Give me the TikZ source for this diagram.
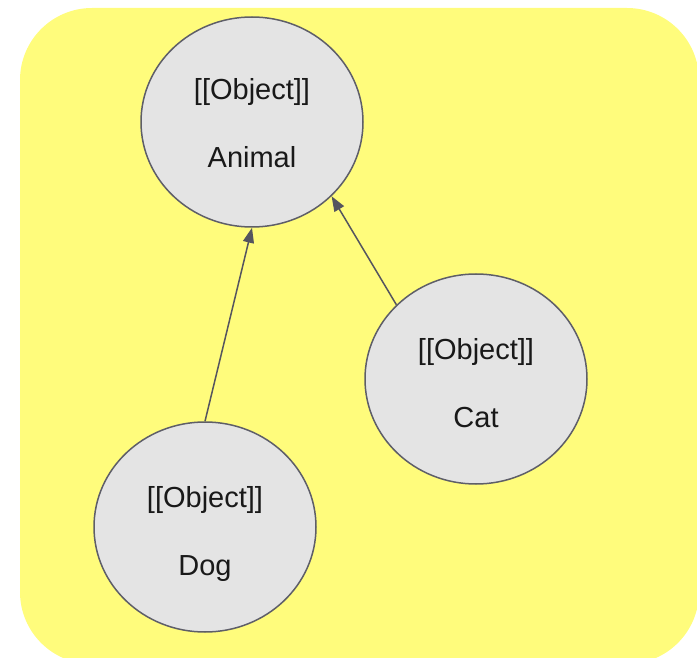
\documentclass[tikz,border=0pt]{standalone}
\usepackage{fontspec}
\setmainfont{Liberation Sans}
\usetikzlibrary{shapes.geometric,arrows.meta}

\definecolor{panelyellow}{HTML}{FFFC7C}
\definecolor{objfill}{HTML}{E4E4E4}
\definecolor{objline}{HTML}{5E5E68}
\definecolor{linkline}{HTML}{55555F}

\tikzset{
  objnode/.style={ellipse, draw=objline, line width=1.5pt, fill=objfill,
    minimum width=222pt, minimum height=210pt, inner sep=0pt},
  objtext/.style={anchor=base, inner sep=0pt, text=black!90,
    font=\fontsize{29}{34}\selectfont},
  inherits/.style={draw=linkline, line width=1.5pt,
    -{Triangle[length=15pt,width=11pt]}}
}

\begin{document}
\begin{tikzpicture}[x=1pt,y=-1pt]
  \useasboundingbox (0,0) rectangle (697,658);
  % yellow panel
  \fill[panelyellow, rounded corners=72pt] (20,8) rectangle (699,664);

  % objects
  \node[objnode] (animal) at (252,122) {};
  \node[objnode] (cat)    at (476,379) {};
  \node[objnode] (dog)    at (205,527) {};

  % stereotype and name of each object
  \node[objtext] (animalkind) at ([yshift=22pt]animal.center) {[[Object]]};
  \node[objtext] (animalname) at ([yshift=-46pt]animal.center) {Animal};
  \node[objtext] (catkind)    at ([yshift=20pt]cat.center) {[[Object]]};
  \node[objtext] (catname)    at ([yshift=-48pt]cat.center) {Cat};
  \node[objtext] (dogkind)    at ([yshift=20pt]dog.center) {[[Object]]};
  \node[objtext] (dogname)    at ([yshift=-48pt]dog.center) {Dog};

  % inheritance links
  \draw[inherits] (dog.north) -- (animal.south);
  \draw[inherits] (cat.137) -- (animal.-43);
\end{tikzpicture}
\end{document}
